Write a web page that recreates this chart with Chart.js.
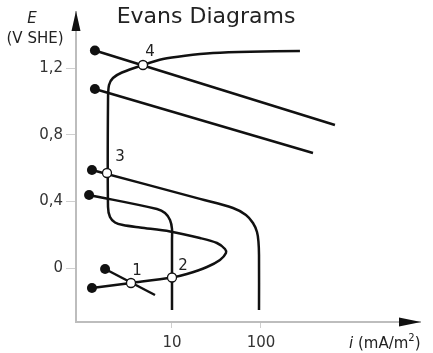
<!DOCTYPE html>
<html>
<head>
<meta charset="utf-8">
<script src="https://cdn.jsdelivr.net/npm/chart.js@4/dist/chart.umd.min.js"></script>
<style>
  html, body { margin: 0; padding: 0; background: #fff; }
  #wrap { width: 433px; height: 353px; }
</style>
</head>
<body>
<div id="wrap"><canvas id="evans" width="433" height="353"></canvas></div>
<script>
// axis ticks
const xTicks = [10, 100];
const yTicks = [0, 0.4, 0.8, 1.2];

// cathodic line ending at point 4 (i in mA/m2, E in V SHE)
const oxHighI = [1.36, 678];
const oxHighE = [1.305, 0.858];

// second upper cathodic line
const oxMidI = [1.36, 384];
const oxMidE = [1.074, 0.69];

// cathodic curve with limiting current ~100
const limit100I = [1.26, 20.6, 48.5, 67.8, 81.3, 90.2, 93.7, 95, 95];
const limit100E = [0.588, 0.415, 0.36, 0.318, 0.27, 0.216, 0.156, 0.078, -0.252];

// cathodic curve with limiting current ~10
const limit10I = [1.17, 6.78, 8.35, 9.5, 10, 10, 10];
const limit10E = [0.438, 0.354, 0.33, 0.288, 0.234, 0.168, -0.252];

// anodic curve of the metal (active, passive, transpassive)
const metalI = [1.26, 3.46, 10, 14.7, 24.7, 34.6, 40.4, 39.4, 32.0, 20.6, 9.5, 4.37, 2.81, 2.29,
    2.01, 1.91, 1.91, 1.96, 2.17, 2.74, 4.72, 7.92, 14.0, 28.9, 75.2, 274];
const metalE = [-0.12, -0.09, -0.057, -0.036, 0.006, 0.048, 0.09, 0.114, 0.15, 0.18, 0.219, 0.243, 0.258, 0.273,
    0.306, 0.366, 1.008, 1.098, 1.14, 1.173, 1.218, 1.254, 1.274, 1.29, 1.298, 1.302];

// small cathodic line crossing at point 1
const lowI = [1.77, 6.44];
const lowE = [-0.006, -0.162];

// intersection points
const crossLabels = ['1', '2', '3', '4'];
const crossI = [3.46, 10, 1.86, 4.72];
const crossE = [-0.09, -0.057, 0.57, 1.218];

const zip = (xs, ys) => xs.map((x, k) => ({ x: x, y: ys[k] }));

const curve = (xs, ys, tension) => ({
    data: zip(xs, ys),
    showLine: true,
    borderColor: '#111',
    borderWidth: 2.5,
    tension: tension,
    pointRadius: ctx => ctx.dataIndex === 0 ? 5 : 0,
    pointBackgroundColor: '#111',
    pointBorderWidth: 0,
    order: 1
});

const fontFamily = '"DejaVu Sans", Verdana, sans-serif';

// title, axis labels, arrows and point numbers
const decor = {
    id: 'decor',
    afterDraw(chart) {
        const { ctx, chartArea, scales } = chart;
        ctx.save();
        ctx.fillStyle = '#111';

        // y arrow
        ctx.beginPath();
        ctx.moveTo(chartArea.left, 11);
        ctx.lineTo(chartArea.left - 4.5, 31);
        ctx.lineTo(chartArea.left + 4.5, 31);
        ctx.closePath();
        ctx.fill();

        // x arrow
        const yb = chartArea.bottom;
        ctx.beginPath();
        ctx.moveTo(chartArea.right + 1, yb);
        ctx.lineTo(chartArea.right - 21, yb - 4.5);
        ctx.lineTo(chartArea.right - 21, yb + 4.5);
        ctx.closePath();
        ctx.fill();

        ctx.fillStyle = '#222';
        ctx.textBaseline = 'alphabetic';

        ctx.textAlign = 'center';
        ctx.font = '22px ' + fontFamily;
        ctx.fillText('Evans Diagrams', 206, 23);

        ctx.font = 'italic 15px ' + fontFamily;
        ctx.fillText('E', 32, 23);
        ctx.font = '15px ' + fontFamily;
        ctx.fillText('(V SHE)', 35, 43);

        // x axis title
        ctx.textAlign = 'left';
        let x = 349;
        ctx.font = 'italic 15px ' + fontFamily;
        ctx.fillText('i', x, 348);
        x += ctx.measureText('i ').width;
        ctx.font = '15px ' + fontFamily;
        ctx.fillText('(mA/m', x, 348);
        x += ctx.measureText('(mA/m').width;
        ctx.font = '10px ' + fontFamily;
        ctx.fillText('2', x, 341);
        x += ctx.measureText('2').width;
        ctx.font = '15px ' + fontFamily;
        ctx.fillText(')', x, 348);

        // numbers next to the intersections
        ctx.textAlign = 'center';
        ctx.textBaseline = 'middle';
        const offs = [[6, -12], [11, -11], [13, -16], [7, -13]];
        crossLabels.forEach((lab, k) => {
            const px = scales.x.getPixelForValue(crossI[k]) + offs[k][0];
            const py = scales.y.getPixelForValue(crossE[k]) + offs[k][1];
            ctx.fillText(lab, px, py);
        });
        ctx.restore();
    }
};

new Chart(document.getElementById('evans'), {
    type: 'scatter',
    data: {
        datasets: [
            {
                data: zip(crossI, crossE),
                pointRadius: 4.5,
                pointBackgroundColor: '#fff',
                pointBorderColor: '#111',
                pointBorderWidth: 1.3,
                order: 0
            },
            curve(oxHighI, oxHighE, 0),
            curve(oxMidI, oxMidE, 0),
            curve(limit100I, limit100E, 0.35),
            curve(limit10I, limit10E, 0.35),
            curve(metalI, metalE, 0.3),
            curve(lowI, lowE, 0)
        ]
    },
    options: {
        responsive: false,
        animation: false,
        layout: { padding: { left: 0, top: 12, right: 13, bottom: 0 } },
        plugins: {
            legend: { display: false },
            tooltip: { enabled: false },
            title: { display: false }
        },
        scales: {
            x: {
                type: 'logarithmic',
                min: 0.834,
                max: 6124,
                afterBuildTicks: scale => {
                    scale.ticks = xTicks.map(v => ({ value: v }));
                },
                afterFit: scale => { scale.height = 31; },
                grid: {
                    drawOnChartArea: false,
                    drawTicks: true,
                    tickLength: 6,
                    color: '#cfcfcf'
                },
                border: { color: '#bdbdbd', width: 2 },
                ticks: {
                    color: '#333',
                    padding: 6,
                    maxRotation: 0,
                    font: { family: fontFamily, size: 15 },
                    callback: v => String(v)
                }
            },
            y: {
                type: 'linear',
                min: -0.324,
                max: 1.536,
                afterBuildTicks: scale => {
                    scale.ticks = yTicks.map(v => ({ value: v }));
                },
                afterFit: scale => { scale.width = 76; },
                grid: {
                    drawOnChartArea: false,
                    drawTicks: true,
                    tickLength: 10,
                    color: '#cfcfcf'
                },
                border: { color: '#bdbdbd', width: 2 },
                ticks: {
                    color: '#333',
                    padding: 3,
                    font: { family: fontFamily, size: 15 },
                    callback: v => v === 0 ? '0' : v.toFixed(1).replace('.', ',')
                }
            }
        }
    },
    plugins: [decor]
});
</script>
</body>
</html>
